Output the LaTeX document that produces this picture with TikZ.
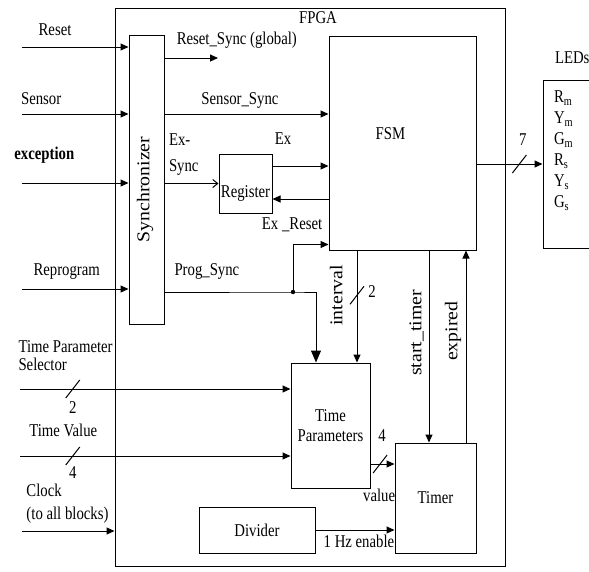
\documentclass[tikz,border=0pt]{standalone}
\usepackage{fontspec}
\setmainfont{Liberation Serif}[FakeStretch=0.82]
\newfontfamily\rotfont{Liberation Serif}[FakeStretch=1.1]
\usetikzlibrary{arrows.meta}

\tikzset{
  blk/.style={draw, line width=1pt, inner sep=0pt, align=center, font=\fontsize{18}{20}\selectfont},
  lbl/.style={inner sep=0pt, text height=12pt, text depth=3.5pt, font=\fontsize{18}{20}\selectfont},
  mlbl/.style={inner sep=0pt, align=left, font=\fontsize{18}{#1}\selectfont},
  mlbl/.default=20,
  vlbl/.style={inner sep=0pt, rotate=90, text height=12pt, text depth=3.5pt, font=\rotfont\fontsize{18}{20}\selectfont},
  bigtip/.style={-{Triangle[length=12pt,width=10pt]}},
  opentip/.style={-{Straight Barb[length=5pt,width=8pt]}}
}
\newcommand{\busmark}[1]{\draw ([shift={(-7,9)}]#1) -- ([shift={(7,-9)}]#1);}

\begin{document}
\begin{tikzpicture}[x=1pt, y=-1pt, line width=1pt, >={Triangle[length=8pt,width=7pt]}]%,cap=round]
\useasboundingbox (0,0) rectangle (589,571);
\clip (0,0) rectangle (589,571);

\node[blk, minimum width=390pt, minimum height=558pt] (fpga) at (310,287) {};
\node[blk, minimum width=35pt, minimum height=289pt] (sync) at (146.5,179.5) {};
\node[blk, minimum width=147pt, minimum height=214pt] (fsm) at (402.5,143) {};
\node[blk, minimum width=53pt, minimum height=59pt] (reg) at (245.5,183.5) {};
\node[blk, minimum width=79pt, minimum height=125pt] (tp) at (330.5,425.5) {Time\\Parameters};
\node[blk, minimum width=81pt, minimum height=110pt] (timer) at (435.5,498) {Timer};
\node[blk, minimum width=116pt, minimum height=46pt] (div) at (257,530) {Divider};
\node[blk, minimum width=57pt, minimum height=168pt] (led) at (571.5,164) {};

\node[lbl] (tfpga) at ([xshift=8pt, yshift=-12pt]fpga.north) {FPGA};
\node[lbl] (tfsm) at ([xshift=-12pt, yshift=8pt]fsm.center) {FSM};
\node[lbl] (treg) at ([yshift=-9.5pt]reg.center) {Register};
\node[vlbl] (tsync) at ([xshift=-1.5pt, yshift=-10pt]sync.center) {Synchronizer};
\node[lbl, anchor=west] (tleds) at ([xshift=12pt, yshift=20pt]led.north west) {LEDs};
\foreach \c/\s [count=\i from 0] in {R/m,Y/m,G/m,R/s,Y/s,G/s}
  \node[lbl, anchor=west] (led\i) at ([xshift=11pt, yshift=-19pt-21pt*\i]led.north west) {\c\textsubscript{\s}};

\coordinate (resetin) at (22,47);
\coordinate (sensin) at (22,114);
\coordinate (excin) at (22,183);
\coordinate (progin) at (22,289);
\coordinate (selin) at (20,389);
\coordinate (valin) at (20,456);
\coordinate (clkin) at (22,531);
\coordinate (rsync) at (218,58);
\coordinate (dot) at (293,292);
\coordinate (regout) at ([yshift=17.5pt]reg.east);
\coordinate (regrst) at ([yshift=-15.5pt]reg.east);
\coordinate (fsmprog) at ([yshift=6pt]fsm.south west);
\coordinate (tpin1) at ([xshift=-14.5pt]tp.north);
\coordinate (tpin2) at ([xshift=26.5pt]tp.north);
\coordinate (tmin) at ([xshift=-6.5pt]timer.north);
\coordinate (tmout) at ([xshift=30.5pt]timer.north);
\coordinate (tpout) at ([yshift=-38.5pt]tp.east);

\draw[->] (resetin) -- node[lbl, pos=.31, yshift=16pt] (lreset) {Reset} (resetin -| sync.west);
\draw[->] (sensin) -- node[lbl, pos=.18, yshift=14pt] (lsens) {Sensor} (sensin -| sync.west);
\draw[->] (excin) -- node[lbl, font=\fontsize{18}{20}\selectfont\bfseries, pos=.21, yshift=28pt] (lexc) {exception} (excin -| sync.west);
\draw[->] (progin) -- node[lbl, pos=.42, yshift=18pt] (lprog) {Reprogram} (progin -| sync.west);
\draw[->] (selin) -- node[mlbl=18, pos=0, anchor=west, xshift=-2pt, yshift=33pt] (lsel) {Time Parameter\\Selector}
  coordinate[pos=.195] (bsel) node[lbl, pos=.195, yshift=-20pt] (nsel) {2} (selin -| tp.west);
\draw[->] (valin) -- node[lbl, pos=.16, yshift=24pt] (lval) {Time Value}
  coordinate[pos=.195] (bval) node[lbl, pos=.195, yshift=-18pt] (nval) {4} (valin -| tp.west);
\draw[->] (clkin) -- node[mlbl=23, pos=0, anchor=west, xshift=4pt, yshift=27.5pt] (lclk) {Clock\\(to all blocks)} (clkin -| fpga.west);

\draw[->] (rsync -| sync.east) -- node[lbl, pos=.22, anchor=west, yshift=18pt] (lrsync) {Reset\_Sync (global)} (rsync);
\draw[->] (sensin -| sync.east) -- node[lbl, pos=.46, yshift=14pt] (lssync) {Sensor\_Sync} (sensin -| fsm.west);
\draw[opentip] (reg.west -| sync.east) -- node[mlbl=26, pos=0, anchor=west, xshift=4pt, yshift=28.5pt] (lexs) {Ex-\\Sync} (reg.west);
\draw[->] (regout) -- node[lbl, pos=.19, yshift=26pt] (lex) {Ex} (regout -| fsm.west);
\draw[->] (regrst -| fsm.west) -- node[lbl, pos=.65, yshift=-26pt] (lexr) {Ex \_Reset} (regrst);

\draw[bigtip] (dot -| sync.east) -- node[lbl, pos=.33, yshift=21pt] (lpsync) {Prog\_Sync} (dot) -| (tpin1);
\draw[->] (dot) |- (fsmprog);
\fill (dot) circle (2.2pt);

\draw[->] (tpin2 |- fsm.south) -- node[xshift=-19pt, vlbl, pos=.4] (lint) {interval}
  coordinate[pos=.4] (bint) node[lbl, pos=.38, xshift=15pt] (nint) {2} (tpin2);
\draw[->] (tmin |- fsm.south) -- node[xshift=-12pt, vlbl, pos=.43] (lstart) {start\_timer} (tmin);
\draw[->] (tmout) -- node[xshift=-13pt, vlbl, pos=.58] (lexp) {expired} (tmout |- fsm.south);

\draw[->] (tpout) -- coordinate[pos=.4] (bv) node[lbl, pos=.48, yshift=27pt] (nv) {4}
  node[lbl, pos=.36, yshift=-33pt] (lv) {value} (tpout -| timer.west);
\draw[->] (div.east) -- node[lbl, pos=.55, yshift=-13pt] (lhz) {1 Hz enable} (div.east -| timer.west);
\draw[->] (led.west -| fsm.east) -- coordinate[pos=.65] (bled) node[lbl, pos=.7, yshift=23pt] (nled) {7} (led.west);

\busmark{bsel}
\busmark{bval}
\busmark{bint}
\busmark{bv}
\busmark{bled}

\end{tikzpicture}
\end{document}
